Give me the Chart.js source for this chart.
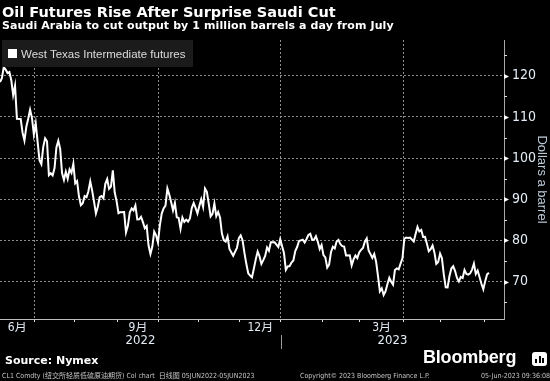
<!DOCTYPE html>
<html><head><meta charset="utf-8">
<script src="https://cdn.jsdelivr.net/npm/chart.js@4.4.0/dist/chart.umd.min.js"></script>
<style>
html,body{margin:0;padding:0;background:#000;}
#wrap{position:relative;width:550px;height:381px;overflow:hidden;background:#000;}
canvas{position:absolute;left:0;top:0;}
.t{position:absolute;white-space:nowrap;color:#fff;}
#title{left:2px;top:4.8px;font:bold 14.5px/15px 'DejaVu Sans',sans-serif;}
#sub{left:2px;top:20px;font:bold 11px/11px 'DejaVu Sans',sans-serif;letter-spacing:0.1px;}
#legend{position:absolute;left:2px;top:40px;width:191px;height:27px;background:#1b1b1b;}
#lsq{position:absolute;left:6px;top:9px;width:9px;height:9px;background:#fff;}
#ltx{left:19px;top:8.3px;font:11.5px/12px 'Liberation Sans',Arial,sans-serif;color:#dcdcdc;}
#src{left:5px;top:354.7px;font:bold 11px/11px 'DejaVu Sans',sans-serif;}
#bb{left:423px;top:347.5px;font:bold 18px/18px 'Liberation Sans',Arial,sans-serif;letter-spacing:-0.2px;}
#ico{position:absolute;left:532px;top:352px;width:15px;height:14px;background:#fff;border-radius:3px;}
.bar{position:absolute;bottom:3px;width:2px;background:#000;}
.f{top:373px;font:7px/7px 'DejaVu Sans Condensed','DejaVu Sans','Noto Sans CJK SC',sans-serif;color:#c4c4c4;}
</style></head><body>
<div id="wrap">
<canvas id="c" width="550" height="381"></canvas>
<div class="t" id="title">Oil Futures Rise After Surprise Saudi Cut</div>
<div class="t" id="sub">Saudi Arabia to cut output by 1 million barrels a day from July</div>
<div id="legend"><div id="lsq"></div><div class="t" id="ltx">West Texas Intermediate futures</div></div>
<div class="t" id="src">Source: Nymex</div>
<div class="t" id="bb">Bloomberg</div>
<div id="ico"><div class="bar" style="left:3px;height:4px"></div><div class="bar" style="left:6.5px;height:7px"></div><div class="bar" style="left:10px;height:5px"></div></div>
<div class="t f" style="left:2px">CL1 Comdty (纽交所轻质低硫原油期货) Col chart&nbsp;&nbsp;日线图 05JUN2022-05JUN2023</div>
<div class="t f" style="left:300px">Copyright© 2023 Bloomberg Finance L.P.</div>
<div class="t f" style="left:481px">05-Jun-2023 09:36:08</div>
</div>
<script>
const dates = [
'2022-06-06','2022-06-07','2022-06-08','2022-06-09','2022-06-10','2022-06-13','2022-06-14','2022-06-15','2022-06-16','2022-06-17',
'2022-06-21','2022-06-22','2022-06-23','2022-06-24','2022-06-27','2022-06-28','2022-06-29','2022-06-30','2022-07-01',
'2022-07-05','2022-07-06','2022-07-07','2022-07-08','2022-07-11','2022-07-12','2022-07-13','2022-07-14','2022-07-15',
'2022-07-18','2022-07-19','2022-07-20','2022-07-21','2022-07-22','2022-07-25','2022-07-26','2022-07-27','2022-07-28','2022-07-29',
'2022-08-01','2022-08-02','2022-08-03','2022-08-04','2022-08-05','2022-08-08','2022-08-09','2022-08-10','2022-08-11','2022-08-12',
'2022-08-15','2022-08-16','2022-08-17','2022-08-18','2022-08-19','2022-08-22','2022-08-23','2022-08-24','2022-08-25','2022-08-26',
'2022-08-29','2022-08-30','2022-08-31','2022-09-01','2022-09-02','2022-09-06','2022-09-07','2022-09-08','2022-09-09',
'2022-09-12','2022-09-13','2022-09-14','2022-09-15','2022-09-16','2022-09-19','2022-09-20','2022-09-21','2022-09-22','2022-09-23',
'2022-09-26','2022-09-27','2022-09-28','2022-09-29','2022-09-30','2022-10-03','2022-10-04','2022-10-05','2022-10-06','2022-10-07',
'2022-10-10','2022-10-11','2022-10-12','2022-10-13','2022-10-14','2022-10-17','2022-10-18','2022-10-19','2022-10-20','2022-10-21',
'2022-10-24','2022-10-25','2022-10-26','2022-10-27','2022-10-28','2022-10-31','2022-11-01','2022-11-02','2022-11-03','2022-11-04',
'2022-11-07','2022-11-08','2022-11-09','2022-11-10','2022-11-11','2022-11-14','2022-11-15','2022-11-16','2022-11-17','2022-11-18',
'2022-11-21','2022-11-22','2022-11-23','2022-11-25','2022-11-28','2022-11-29','2022-11-30','2022-12-01','2022-12-02',
'2022-12-05','2022-12-06','2022-12-07','2022-12-08','2022-12-09','2022-12-12','2022-12-13','2022-12-14','2022-12-15','2022-12-16',
'2022-12-19','2022-12-20','2022-12-21','2022-12-22','2022-12-23','2022-12-27','2022-12-28','2022-12-29','2022-12-30',
'2023-01-03','2023-01-04','2023-01-05','2023-01-06','2023-01-09','2023-01-10','2023-01-11','2023-01-12','2023-01-13',
'2023-01-17','2023-01-18','2023-01-19','2023-01-20','2023-01-23','2023-01-24','2023-01-25','2023-01-26','2023-01-27',
'2023-01-30','2023-01-31','2023-02-01','2023-02-02','2023-02-03','2023-02-06','2023-02-07','2023-02-08','2023-02-09','2023-02-10',
'2023-02-13','2023-02-14','2023-02-15','2023-02-16','2023-02-17','2023-02-21','2023-02-22','2023-02-23','2023-02-24',
'2023-02-27','2023-02-28','2023-03-01','2023-03-02','2023-03-03','2023-03-06','2023-03-07','2023-03-08','2023-03-09','2023-03-10',
'2023-03-13','2023-03-14','2023-03-15','2023-03-16','2023-03-17','2023-03-20','2023-03-21','2023-03-22','2023-03-23','2023-03-24',
'2023-03-27','2023-03-28','2023-03-29','2023-03-30','2023-03-31','2023-04-03','2023-04-04','2023-04-05','2023-04-06',
'2023-04-10','2023-04-11','2023-04-12','2023-04-13','2023-04-14','2023-04-17','2023-04-18','2023-04-19','2023-04-20','2023-04-21',
'2023-04-24','2023-04-25','2023-04-26','2023-04-27','2023-04-28','2023-05-01','2023-05-02','2023-05-03','2023-05-04','2023-05-05',
'2023-05-08','2023-05-09','2023-05-10','2023-05-11','2023-05-12','2023-05-15','2023-05-16','2023-05-17','2023-05-18','2023-05-19',
'2023-05-22','2023-05-23','2023-05-24','2023-05-25','2023-05-26','2023-05-30','2023-05-31','2023-06-01','2023-06-02','2023-06-05'];
const wti = [
118.50,119.41,122.11,121.51,120.67,120.93,118.93,115.31,117.59,109.56,
109.52,106.19,104.27,107.62,109.57,111.76,109.78,105.76,108.43,
99.50,98.53,102.73,104.79,104.09,95.84,96.30,95.78,97.59,
102.60,104.22,102.26,96.35,94.70,96.70,94.98,97.26,96.42,98.62,
93.89,94.42,90.66,88.54,89.01,90.76,90.50,91.93,94.34,92.09,
89.41,86.53,88.11,90.50,90.77,90.23,93.74,94.89,92.52,93.06,
97.01,91.64,89.55,86.61,86.87,86.88,81.94,83.54,86.79,
87.78,87.31,88.48,85.10,85.11,85.73,84.45,82.94,83.49,78.74,
76.71,78.50,82.15,81.23,79.49,83.63,86.52,87.76,88.45,92.64,
91.13,89.35,87.27,89.11,85.61,85.46,82.82,85.55,84.51,85.05,
84.58,85.32,87.91,89.08,87.90,86.53,88.37,90.00,88.17,92.61,
91.79,88.91,85.83,86.47,88.96,85.87,86.92,85.59,81.64,80.08,
79.73,80.95,77.94,76.28,77.24,78.20,80.55,81.22,79.98,
76.93,74.25,72.01,71.46,71.02,73.17,75.39,77.28,76.11,74.29,
75.19,76.23,78.29,77.49,79.56,79.53,78.96,78.40,80.26,
76.93,72.84,73.67,73.77,74.63,75.12,77.41,78.39,79.86,
80.18,79.48,80.33,81.31,81.62,80.13,80.15,81.01,79.68,
77.90,78.87,76.41,75.88,73.39,74.11,77.14,78.47,78.06,79.72,
80.14,79.06,78.59,78.49,76.34,76.36,73.95,75.39,76.32,
75.68,77.05,77.69,78.16,79.68,80.46,77.58,76.66,75.72,76.68,
74.80,71.33,67.61,68.35,66.74,67.64,69.33,70.90,69.96,69.26,
72.81,73.20,72.97,74.37,75.67,80.42,80.71,80.61,80.70,
79.74,81.53,83.26,82.16,82.52,80.83,80.86,79.16,77.37,77.87,
78.76,77.07,74.30,74.76,76.78,75.66,71.66,68.60,68.56,71.34,
73.16,73.71,72.56,70.87,70.04,71.11,70.86,72.83,71.86,71.69,
71.99,72.91,74.34,71.83,72.67,69.46,68.09,70.10,71.74,72.15];
const monthStarts = ['2022-07-01','2022-08-01','2022-09-01','2022-10-01','2022-11-01','2022-12-01',
  '2023-01-01','2023-02-01','2023-03-01','2023-04-01','2023-05-01','2023-06-01'];
const gridMonths = ['2022-07-01','2022-10-01','2023-01-01','2023-04-01'];
const monthLabels = ['6月','9月','12月','3月'];
const monthLabelSpans = [['2022-06-01','2022-07-01'],['2022-09-01','2022-10-01'],['2022-12-01','2023-01-01'],['2023-03-01','2023-04-01']];
const yearLabels = ['2022','2023'];
const yearSpans = [['2022-06-01','2023-01-01'],['2023-01-01','2023-07-01']];
const yearBoundary = '2023-01-01';
const yMajor = [70,80,90,100,110,120];
const yMinor = [65,75,85,95,105,115,125];

// weekday index (Bloomberg plots trading weekdays evenly)
const BASE = Date.UTC(2022,5,6);
function wd(s){
  const p = s.split('-').map(Number);
  const days = Math.round((Date.UTC(p[0],p[1]-1,p[2]) - BASE)/864e5);
  const w = Math.floor(days/7), r = ((days%7)+7)%7;
  return w*5 + Math.min(r,5);
}
const X_MIN = 0, X_MAX = 268;
const bnd = s => wd(s) - 0.6;
const clampX = v => Math.max(X_MIN, Math.min(X_MAX, v));
const tickVals = monthStarts.map(bnd);
const gridVals = gridMonths.map(bnd);
const monthPos = monthLabelSpans.map(s => (clampX(bnd(s[0])) + clampX(bnd(s[1])))/2);
const yearPos = yearSpans.map(s => (clampX(bnd(s[0])) + clampX(bnd(s[1])))/2);
const points = dates.map((d,i) => ({x: wd(d), y: wti[i]}));

const NARROW = "'Liberation Sans Narrow','DejaVu Sans Condensed','Noto Sans CJK SC',sans-serif";
const LBL = '#e4ecf6';
const GRID = 'rgba(150,150,150,0.95)';

const decor = {
  id: 'decor',
  afterDraw(chart){
    const ctx = chart.ctx, y = chart.scales.y, x = chart.scales.x, yr = chart.scales.xYear;
    ctx.save();
    ctx.strokeStyle = '#d8d8d8'; ctx.fillStyle = '#ffffff'; ctx.lineWidth = 1;
    yMinor.forEach(v => {
      const p = Math.round(y.getPixelForValue(v)) + 0.5;
      ctx.beginPath(); ctx.moveTo(y.left, p); ctx.lineTo(y.left + 3, p); ctx.stroke();
    });
    yMajor.forEach(v => {
      const p = Math.round(y.getPixelForValue(v)) + 0.5;
      ctx.beginPath(); ctx.moveTo(y.left, p - 2.5); ctx.lineTo(y.left + 5, p); ctx.lineTo(y.left, p + 2.5); ctx.closePath(); ctx.fill();
    });
    const sx = Math.round(x.getPixelForValue(bnd(yearBoundary))) + 0.5;
    ctx.strokeStyle = '#9a9a9a';
    ctx.beginPath(); ctx.moveTo(sx, yr.top + 2); ctx.lineTo(sx, yr.bottom); ctx.stroke();
    ctx.restore();
  }
};

new Chart(document.getElementById('c'), {
  type: 'line',
  data: { datasets: [{ data: points, borderColor: '#ffffff', borderWidth: 2, pointRadius: 0, tension: 0, fill: false }] },
  options: {
    responsive: false, animation: false, devicePixelRatio: 1,
    layout: { padding: { left: 0, right: 0, top: 40, bottom: 32 } },
    plugins: { legend: { display: false }, tooltip: { enabled: false }, title: { display: false } },
    scales: {
      x: {
        type: 'linear', position: 'bottom', min: X_MIN, max: X_MAX, weight: 0,
        afterBuildTicks: s => { s.ticks = tickVals.map(v => ({value: v})); },
        afterFit: s => { s.height = 3; },
        ticks: { display: false },
        grid: {
          drawOnChartArea: true, drawTicks: true, tickLength: 3, tickColor: '#e0e0e0',
          color: c => (c.tick && gridVals.includes(c.tick.value)) ? GRID : 'rgba(0,0,0,0)', lineWidth: 1
        },
        border: { display: true, color: '#bdbdbd', width: 1, dash: [2,2] }
      },
      xMonth: {
        type: 'linear', position: 'bottom', min: X_MIN, max: X_MAX, weight: 1,
        afterBuildTicks: s => { s.ticks = monthPos.map(v => ({value: v})); },
        afterFit: s => { s.height = 11; },
        grid: { display: false, drawTicks: false, drawOnChartArea: false },
        border: { display: false },
        ticks: { autoSkip: false, maxRotation: 0, padding: 0, color: LBL,
          font: { family: NARROW, size: 12, lineHeight: 1 }, callback: (v, i) => monthLabels[i] }
      },
      xYear: {
        type: 'linear', position: 'bottom', min: X_MIN, max: X_MAX, weight: 2,
        afterBuildTicks: s => { s.ticks = yearPos.map(v => ({value: v})); },
        afterFit: s => { s.height = 16; },
        grid: { display: false, drawTicks: false, drawOnChartArea: false },
        border: { display: false },
        ticks: { autoSkip: false, maxRotation: 0, padding: 1, color: LBL,
          font: { family: NARROW, size: 13, lineHeight: 1 }, callback: (v, i) => yearLabels[i] }
      },
      y: {
        type: 'linear', position: 'right', min: 60.9, max: 128.7,
        afterBuildTicks: s => { s.ticks = yMajor.concat(yMinor).sort((a,b)=>a-b).map(v => ({value: v})); },
        afterFit: s => { s.width = 46; },
        ticks: { padding: 8, color: LBL, font: { family: NARROW, size: 14 },
          callback: v => yMajor.includes(v) ? String(v) : '' },
        grid: { drawTicks: false, lineWidth: 1,
          color: c => (c.tick && yMajor.includes(c.tick.value)) ? GRID : 'rgba(0,0,0,0)' },
        border: { display: true, color: '#a8a8a8', width: 1, dash: [2,2] },
        title: { display: true, text: 'Dollars a barrel', color: '#bccad8',
          font: { family: "'Liberation Sans',Arial,sans-serif", size: 13 }, padding: { top: 1, bottom: 0 } }
      }
    }
  },
  plugins: [decor]
});
</script>
</body></html>
